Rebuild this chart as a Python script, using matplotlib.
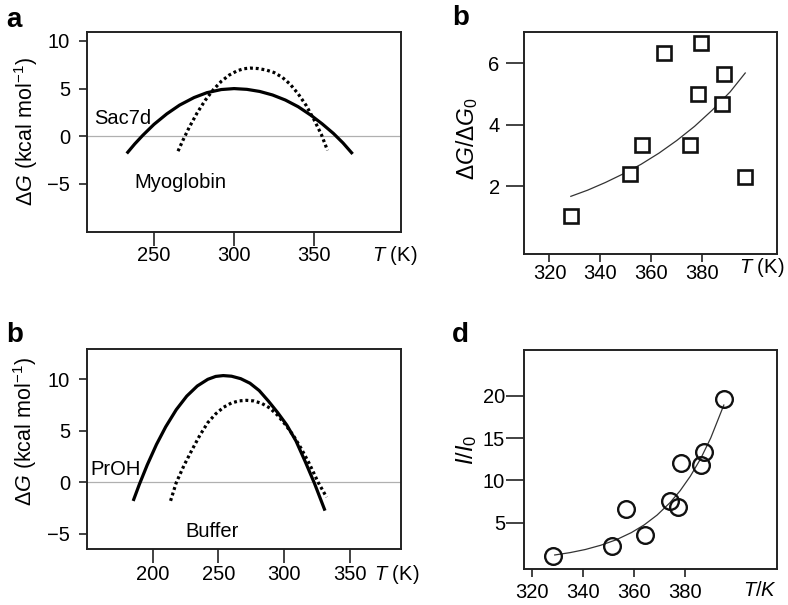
import matplotlib
matplotlib.use("Agg")
import matplotlib.pyplot as plt

plt.rcParams['font.family'] = ['Liberation Sans', 'DejaVu Sans']
plt.rcParams['mathtext.fontset'] = 'custom'
plt.rcParams['mathtext.rm'] = 'Liberation Sans'
plt.rcParams['mathtext.it'] = 'Liberation Sans:italic'
plt.rcParams['mathtext.bf'] = 'Liberation Sans:bold'

# ---- Panel a: Sac7d (solid) and Myoglobin (dotted) ----
sac7d_T = [233, 238, 243, 250, 258, 266, 275, 283, 292, 300, 308, 316, 324, 332, 340, 348, 355, 362, 368, 374]
sac7d_G = [-1.8, -0.8, 0.1, 1.25, 2.35, 3.27, 4.06, 4.57, 4.9, 5.0, 4.92, 4.7, 4.33, 3.8, 3.1, 2.2, 1.3, 0.3, -0.7, -1.85]
myo_T = [265, 268, 272, 277, 282, 287, 292, 297, 302, 306, 310, 315, 320, 325, 330, 335, 340, 345, 350, 354.5, 358.3]
myo_G = [-1.56, -0.44, 0.94, 2.47, 3.78, 4.88, 5.76, 6.42, 6.87, 7.08, 7.15, 7.1, 6.95, 6.68, 6.19, 5.46, 4.45,
         3.23, 1.71, 0.18, -1.48]
a_xticks = [250, 300, 350]
a_yticks = [-5, 0, 5, 10]

# ---- Panel b (top right): dG/dG0 vs T ----
b_T = [328.4, 351.6, 356.4, 365.1, 375.1, 378.5, 379.6, 387.8, 388.7, 396.9]
b_ratio = [1.05, 2.40, 3.36, 6.34, 3.36, 4.99, 6.64, 4.67, 5.64, 2.32]
b_fit_T = [328.4, 335, 342, 349, 356, 363, 370, 377, 384, 391, 396.9]
b_fit_G = [1.68, 1.88, 2.13, 2.41, 2.72, 3.08, 3.49, 3.95, 4.48, 5.07, 5.68]
b_xticks = [320, 340, 360, 380]
b_yticks = [2, 4, 6]

# ---- Panel c (bottom left, labelled b): PrOH (solid) and Buffer (dotted) ----
proh_T = [185.3, 190, 196, 203, 210, 218, 226, 234, 242, 248, 253.7, 260, 267, 274, 281, 288, 295, 302, 309,
          316, 323, 331]
proh_G = [-1.81, -0.2, 1.69, 3.67, 5.38, 7.04, 8.36, 9.34, 9.99, 10.27, 10.35, 10.29, 10.05, 9.61, 8.9, 7.88,
          6.77, 5.55, 4.0, 2.0, -0.1, -2.75]
buf_T = [213.7, 218, 224, 230, 236, 242, 248, 254, 260, 266, 271.4, 277, 283, 289, 295, 301, 307, 313, 319,
         325.8, 332.2]
buf_G = [-1.8, -0.04, 1.66, 3.15, 4.57, 5.79, 6.64, 7.28, 7.7, 7.9, 7.95, 7.89, 7.65, 7.21, 6.5, 5.58, 4.53,
         3.26, 1.83, 0.0, -1.45]
c_xticks = [200, 250, 300, 350]
c_yticks = [-5, 0, 5, 10]

# ---- Panel d: I/I0 vs T ----
d_T = [328.2, 351.3, 356.9, 364.4, 374.2, 377.3, 378.4, 386.3, 387.3, 395.1]
d_ratio = [1.07, 2.25, 6.59, 3.51, 7.57, 6.82, 12.1, 11.8, 13.4, 19.65]
d_fit_T = [329, 335, 341, 347, 353, 359, 364, 369, 374, 378, 382, 386, 390, 395.1]
d_fit_I = [1.19, 1.47, 1.84, 2.34, 2.98, 3.84, 4.75, 5.9, 7.35, 8.77, 10.49, 12.54, 15.02, 18.9]
d_xticks = [320, 340, 360, 380]
d_yticks = [5, 10, 15, 20]

W, H = 788, 605
fig = plt.figure(figsize=(W / 100, H / 100), dpi=100)


def px_axes(l, t, r, b):
    return fig.add_axes([l / W, 1 - b / H, (r - l) / W, (b - t) / H])


spine_c = '#222222'
tick_fs = 14.5
lab_fs = 15.5
ann_fs = 14.5


def style(ax, xlen, ylen, xpad, ypad):
    for s in ax.spines.values():
        s.set_linewidth(1.4)
        s.set_color(spine_c)
    ax.tick_params(axis='x', length=xlen, width=1.2, pad=xpad, labelsize=tick_fs, color=spine_c)
    ax.tick_params(axis='y', length=ylen, width=1.2, pad=ypad, labelsize=tick_fs, color=spine_c)


# Panel a
ax1 = px_axes(86.7, 32.3, 400.7, 231.7)
ax1.axhline(0, color='#b0b0b0', lw=0.9, zorder=1)
ax1.plot(sac7d_T, sac7d_G, color='black', lw=2.3, solid_capstyle='butt')
ax1.plot(myo_T, myo_G, color='black', lw=2.3, linestyle=(0, (0.9, 0.9)))
ax1.set_xlim(208, 404)
ax1.set_ylim(-10, 10.9)
ax1.set_xticks(a_xticks)
ax1.set_yticks(a_yticks)
style(ax1, 10, 6, 0.5, 6)
ax1.text(212.5, 1.33, 'Sac7d', fontsize=ann_fs, va='baseline')
ax1.text(237.5, -5.37, 'Myoglobin', fontsize=ann_fs, va='baseline')

# Panel b (top right)
ax2 = px_axes(524, 32.3, 777.3, 254.3)
ax2.plot(b_fit_T, b_fit_G, color='#333333', lw=0.9)
ax2.plot(b_T, b_ratio, linestyle='none', marker='s', ms=9.5, mfc='white', mec='#111111', mew=1.9)
ax2.set_xlim(310, 409.5)
ax2.set_ylim(-0.2, 7.0)
ax2.set_xticks(b_xticks)
ax2.set_yticks(b_yticks)
style(ax2, 6, 13, 1, 4.5)

# Panel c (bottom left)
ax3 = px_axes(86.7, 349.3, 400.7, 549.3)
ax3.axhline(0, color='#b0b0b0', lw=0.9, zorder=1)
ax3.plot(proh_T, proh_G, color='black', lw=2.3, solid_capstyle='butt')
ax3.plot(buf_T, buf_G, color='black', lw=2.3, linestyle=(0, (0.9, 0.9)))
ax3.set_xlim(150, 388.5)
ax3.set_ylim(-6.5, 12.9)
ax3.set_xticks(c_xticks)
ax3.set_yticks(c_yticks)
style(ax3, 10, 6, 1.5, 6)
ax3.text(152.9, 0.71, 'PrOH', fontsize=ann_fs, va='baseline')
ax3.text(225.3, -5.27, 'Buffer', fontsize=ann_fs, va='baseline')

# Panel d
ax4 = px_axes(524, 350, 777.3, 569.3)
ax4.plot(d_fit_T, d_fit_I, color='#333333', lw=0.9)
ax4.plot(d_T, d_ratio, linestyle='none', marker='o', ms=12, mfc='none', mec='#111111', mew=1.7)
ax4.set_xlim(317, 416)
ax4.set_ylim(-0.5, 25.4)
ax4.set_xticks(d_xticks)
ax4.set_yticks(d_yticks)
style(ax4, 6, 13, 4, 0.5)


def ftext(x, y, s, **kw):
    fig.text(x / W, 1 - y / H, s, **kw)


# y labels
ftext(26.5, 131.5, r'$\Delta G$ (kcal mol$^{-1}$)', rotation=90, ha='center', va='center', fontsize=lab_fs)
ftext(25.5, 431.7, r'$\Delta G$ (kcal mol$^{-1}$)', rotation=90, ha='center', va='center', fontsize=lab_fs)
ftext(467.5, 139, r'$\Delta G/\Delta G_0$', rotation=90, ha='center', va='center', fontsize=16.5)
ftext(467, 449.5, r'$I/I_0$', rotation=90, ha='center', va='center', fontsize=17)

# x labels
ftext(394.5, 255.5, r'$T$ (K)', ha='center', va='center', fontsize=tick_fs)
ftext(761.5, 268, r'$T$ (K)', ha='center', va='center', fontsize=tick_fs)
ftext(397, 575, r'$T$ (K)', ha='center', va='center', fontsize=tick_fs)
ftext(760, 590, r'$T/K$', ha='center', va='center', fontsize=tick_fs)

# panel letters
ftext(6, 20, 'a', fontsize=20, fontweight='bold', ha='left', va='center')
ftext(452, 18, 'b', fontsize=20, fontweight='bold', ha='left', va='center')
ftext(6, 335, 'b', fontsize=20, fontweight='bold', ha='left', va='center')
ftext(452, 335, 'd', fontsize=20, fontweight='bold', ha='left', va='center')

fig.savefig('out.png', dpi=100)
